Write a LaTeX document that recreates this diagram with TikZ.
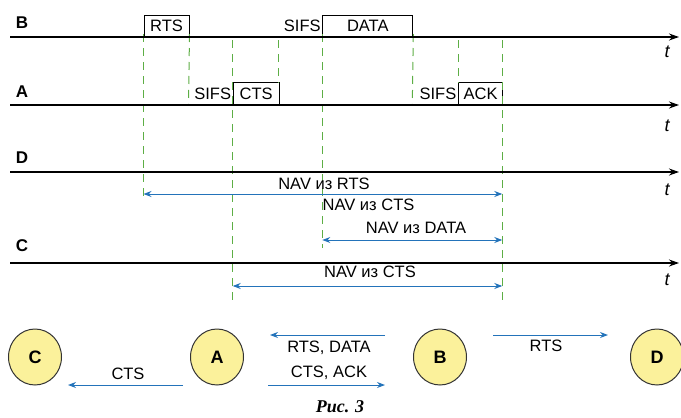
\documentclass[tikz,border=0pt]{standalone}
\usepackage{fontspec}
\setmainfont{Liberation Sans}
\newfontfamily\capfont{Liberation Serif}
\usetikzlibrary{arrows.meta,shapes.geometric}
\definecolor{grn}{HTML}{5DAE45}
\definecolor{blu}{HTML}{2373BA}
\definecolor{yel}{HTML}{FBF19B}
\begin{document}
\begin{tikzpicture}[x=1pt,y=-1pt,
  txt/.style={font=\fontsize{16.5}{18}\selectfont, inner sep=1.5pt},
  lane/.style={font=\bfseries\fontsize{17}{18}\selectfont, inner sep=0pt},
  tlab/.style={font=\itshape\fontsize{18}{18}\selectfont, inner sep=0pt},
  tl/.style={line width=1.2pt, -{Stealth[length=10pt,width=7pt]}},
  box/.style={draw, line width=1pt, inner sep=0pt, minimum height=21.5pt, font=\fontsize{16.5}{18}\selectfont, anchor=south west},
  dsh/.style={draw=grn, line width=1pt, dash pattern=on 8pt off 6pt},
  nav/.style={draw=blu, line width=1pt, {Stealth[length=8pt,width=6pt]}-{Stealth[length=8pt,width=6pt]}},
  msg/.style={draw=blu, line width=1pt, -{Stealth[length=8pt,width=6pt]}},
  ell/.style={ellipse, draw=black!80, line width=1pt, fill=yel, minimum width=53pt, minimum height=56pt, inner sep=0pt, font=\bfseries\fontsize{18}{18}\selectfont}
]
\useasboundingbox (0,0) rectangle (681,418);

% boxes
\node[box, minimum width=45pt] (rts) at (143.5,37) {RTS};
\node[box, minimum width=90pt] (data) at (322.3,37) {DATA};
\node[box, minimum width=46pt, minimum height=22pt] (cts) at (232.7,105) {CTS};
\node[box, minimum width=44.3pt, minimum height=22pt] (ack) at (458,105) {ACK};

% dashed guides
\coordinate (g1) at (143.5,198);
\coordinate (g2) at (188.5,105);
\coordinate (g3) at (232.7,305);
\coordinate (g4) at (278.7,83);
\coordinate (g5) at (322.3,248);
\coordinate (g6) at (412.3,105);
\coordinate (g7) at (458,83);
\coordinate (g8) at (502.3,305);
\draw[dsh] ([yshift=3pt]rts.south west) -- (g1);
\draw[dsh] ([yshift=3pt]rts.south east) -- (g2);
\draw[dsh] (232.7,40) -- (g3);
\draw[dsh] (278.7,40) -- (g4);
\draw[dsh] ([yshift=3pt]data.south west) -- (g5);
\draw[dsh] ([yshift=3pt]data.south east) -- (g6);
\draw[dsh] (458,40) -- (g7);
\draw[dsh] (502.3,40) -- (g8);

% timelines
\coordinate (Bs) at (10,37);  \coordinate (Be) at (679,37);
\coordinate (As) at (10,105); \coordinate (Ae) at (679,105);
\coordinate (Ds) at (10,172); \coordinate (De) at (679,172);
\coordinate (Cs) at (10,263); \coordinate (Ce) at (679,263);
\draw[tl] (Bs) -- (Be);
\draw[tl] (As) -- (Ae);
\draw[tl] (Ds) -- (De);
\draw[tl] (Cs) -- (Ce);
\node[lane] (lB) at (22,23) {B};
\node[lane] (lA) at (22,92) {A};
\node[lane] (lD) at (22,158) {D};
\node[lane] (lC) at (22,246) {C};
\node[tlab] (tB) at (667,52) {t};
\node[tlab] (tA) at (667,126) {t};
\node[tlab] (tD) at (667,190) {t};
\node[tlab] (tC) at (667,280) {t};

% SIFS
\node[txt, anchor=east] (s1) at (data.west) {SIFS};
\node[txt, anchor=east] (s2) at (cts.west) {SIFS};
\node[txt, anchor=east] (s3) at (ack.west) {SIFS};

% NAV arrows
\coordinate (n1a) at (143.5,194); \coordinate (n1b) at (502.3,194);
\draw[nav] (n1a) -- (n1b);
\node[txt] (t1) at (324,184) {NAV из RTS};
\node[txt, anchor=west] (t2) at (321,205) {NAV из CTS};
\coordinate (n2a) at (322.3,240); \coordinate (n2b) at (502.3,240);
\draw[nav] (n2a) -- (n2b);
\node[txt] (t3) at (416,228) {NAV из DATA};
\coordinate (n3a) at (232.7,286); \coordinate (n3b) at (502.3,286);
\draw[nav] (n3a) -- (n3b);
\node[txt] (t4) at (370,272) {NAV из CTS};

% stations
\node[ell] (C) at (35,357) {C};
\node[ell] (A) at (217,357) {A};
\node[ell] (B) at (440,357) {B};
\node[ell] (D) at (657,357) {D};

\coordinate (ba1) at (385,335); \coordinate (ba2) at (270,335);
\draw[msg] (ba1) -- (ba2);
\node[txt] at (329,348) {RTS, DATA};
\coordinate (ab1) at (268,385); \coordinate (ab2) at (385,385);
\draw[msg] (ab1) -- (ab2);
\node[txt] at (329,373) {CTS, ACK};
\coordinate (ac1) at (183,385); \coordinate (ac2) at (68,385);
\draw[msg] (ac1) -- (ac2);
\node[txt] at (128,374) {CTS};
\coordinate (bd1) at (493,335); \coordinate (bd2) at (608,335);
\draw[msg] (bd1) -- (bd2);
\node[txt] at (546,346) {RTS};

\node[font=\capfont\bfseries\itshape\fontsize{18}{18}\selectfont, inner sep=0pt] (cap) at (340,407) {Рис. 3};
\end{tikzpicture}
\end{document}
